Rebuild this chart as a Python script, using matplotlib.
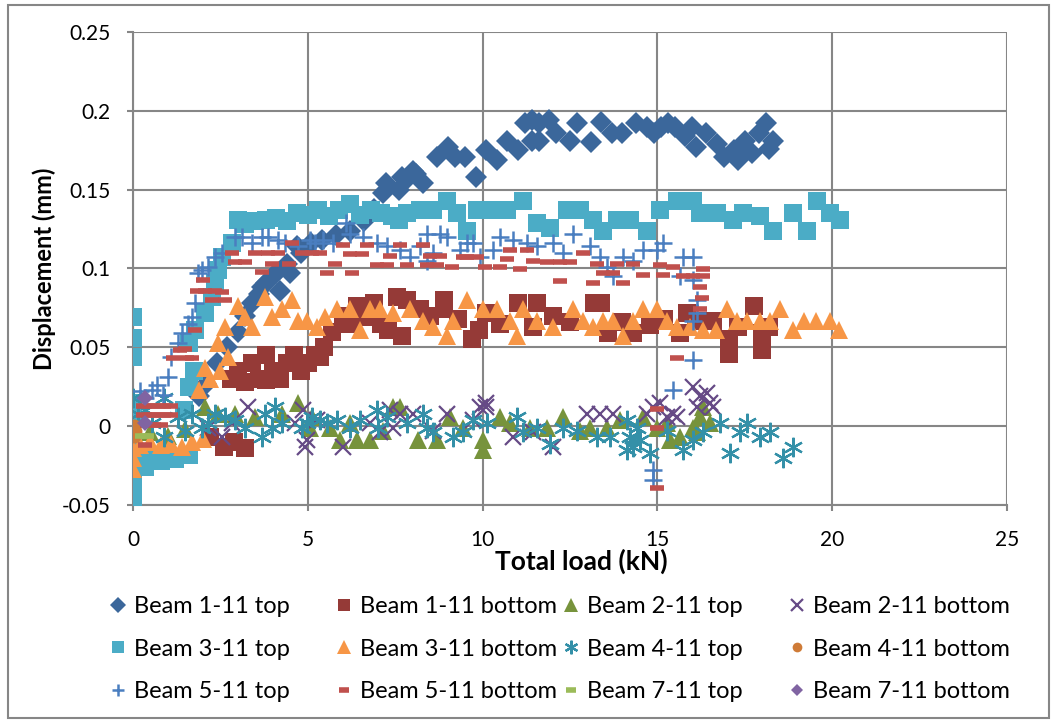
import numpy as np
import matplotlib.pyplot as plt
from matplotlib.patches import Rectangle
from matplotlib.ticker import FuncFormatter

plt.rcParams['font.family'] = ['Lato', 'DejaVu Sans']

# (total load kN, displacement mm) per gauge
beam_1_11_top = [
    (1.9, 0.019), (2.1, 0.027), (2.4, 0.040), (2.7, 0.050), (3.0, 0.060), (3.2, 0.070),
    (3.4, 0.078), (3.6, 0.084), (3.7, 0.088), (3.8, 0.091), (4.0, 0.095), (4.1, 0.097),
    (4.2, 0.086), (4.4, 0.103), (4.5, 0.097), (4.7, 0.114), (4.8, 0.110), (5.1, 0.116),
    (5.4, 0.118), (5.8, 0.121), (6.2, 0.124), (6.6, 0.130), (6.9, 0.138), (7.15, 0.148),
    (7.25, 0.154), (7.6, 0.150), (7.7, 0.158), (7.8, 0.156), (8.0, 0.162), (8.1, 0.160),
    (8.3, 0.154), (8.7, 0.171), (9.0, 0.177), (9.2, 0.171), (9.5, 0.171), (9.8, 0.158),
    (10.1, 0.175), (10.4, 0.169), (10.7, 0.181), (11.0, 0.175), (11.2, 0.192), (11.4, 0.194),
    (11.4, 0.181), (11.6, 0.192), (11.6, 0.181), (11.9, 0.194), (12.1, 0.186), (12.5, 0.181),
    (12.7, 0.192), (13.1, 0.180), (13.4, 0.193), (13.7, 0.186), (14.0, 0.186), (14.4, 0.192),
    (14.7, 0.190), (14.9, 0.186), (15.1, 0.190), (15.3, 0.192), (15.5, 0.190), (15.8, 0.184),
    (16.0, 0.190), (16.1, 0.177), (16.4, 0.186), (16.7, 0.179), (16.9, 0.171), (17.2, 0.175),
    (17.3, 0.169), (17.5, 0.181), (17.7, 0.173), (17.9, 0.186), (18.1, 0.192), (18.2, 0.176),
    (18.3, 0.181),
]
beam_1_11_bottom = [
    (2.2, -0.007), (2.6, -0.013), (2.9, -0.010), (3.2, -0.014), (2.8, 0.030), (3.0, 0.035),
    (3.2, 0.028), (3.4, 0.040), (3.6, 0.030), (3.8, 0.045), (3.8, 0.029), (4.0, 0.035),
    (4.2, 0.030), (4.4, 0.040), (4.6, 0.045), (4.8, 0.035), (5.0, 0.040), (5.2, 0.045),
    (5.35, 0.044), (5.45, 0.050), (5.7, 0.060), (6.0, 0.070), (6.2, 0.065), (6.4, 0.076),
    (6.7, 0.069), (6.9, 0.078), (7.1, 0.065), (7.3, 0.061), (7.55, 0.082), (7.7, 0.057),
    (7.85, 0.080), (8.2, 0.074), (8.5, 0.070), (8.9, 0.080), (8.9, 0.074), (9.3, 0.068),
    (9.7, 0.055), (9.9, 0.061), (10.1, 0.072), (10.5, 0.065), (11.0, 0.078), (11.45, 0.063),
    (11.55, 0.078), (12.0, 0.070), (12.5, 0.066), (13.2, 0.078), (13.4, 0.078), (13.6, 0.059),
    (14.0, 0.066), (14.3, 0.059), (14.8, 0.064), (15.2, 0.068), (15.65, 0.059), (15.85, 0.072),
    (16.1, 0.067), (16.6, 0.067), (17.05, 0.055), (17.05, 0.046), (17.3, 0.063), (17.75, 0.076),
    (18.0, 0.059), (18.0, 0.048), (18.2, 0.063),
]
beam_2_11_top = [
    (0.5, -0.004), (1.0, -0.006), (1.5, -0.002), (2.06, 0.012), (2.43, 0.008), (2.92, 0.008),
    (3.49, 0.006), (4.26, 0.008), (4.73, 0.015), (5.06, -0.001), (5.12, 0.006), (5.64, -0.001),
    (5.92, -0.009), (6.21, 0.002), (6.4, -0.009), (6.78, -0.009), (7.15, -0.003), (7.44, 0.012),
    (7.64, 0.012), (8.16, -0.009), (8.69, -0.009), (9.07, 0.006), (9.45, -0.001), (10.0, -0.009),
    (10.0, -0.015), (10.5, 0.006), (10.78, 0.002), (11.36, -0.001), (11.83, -0.001), (12.3, 0.006),
    (12.79, -0.003), (13.07, -0.001), (13.55, -0.001), (13.93, 0.004), (14.6, 0.006), (14.99, -0.001),
    (15.27, 0.002), (15.36, -0.009), (15.65, -0.007), (16.03, -0.001), (16.12, -0.004), (16.22, 0.006),
    (16.3, 0.012), (16.5, 0.002),
]
beam_2_11_bottom = [
    (2.15, -0.001), (2.54, -0.007), (2.83, 0.002), (3.3, 0.012), (4.63, 0.002), (4.87, 0.010),
    (4.92, -0.013), (4.97, -0.009), (5.26, 0.004), (6.02, -0.013), (6.78, 0.002), (7.07, -0.004),
    (7.35, 0.010), (7.44, -0.001), (7.64, 0.008), (8.0, 0.008), (8.59, -0.003), (8.97, 0.008),
    (9.73, 0.004), (9.92, 0.012), (10.1, 0.015), (10.1, 0.012), (10.87, -0.007), (11.45, -0.004),
    (12.02, -0.013), (12.98, 0.008), (13.36, 0.008), (13.74, 0.008), (14.69, 0.008), (14.88, 0.012),
    (15.07, 0.015), (15.27, 0.006), (15.45, 0.008), (15.55, 0.006), (16.03, 0.025), (16.12, 0.012),
    (16.22, 0.019), (16.41, 0.021), (16.5, 0.015), (16.6, 0.012),
]
beam_3_11_top = [
    (0.0, 0.069), (0.0, 0.056), (0.0, 0.044), (0.0, 0.015), (0.0, 0.006), (0.0, -0.010),
    (0.0, -0.020), (0.0, -0.034), (0.0, -0.045), (0.35, -0.026), (0.4, -0.020), (0.8, -0.022),
    (1.2, -0.021), (1.6, -0.018), (1.45, 0.010), (1.6, 0.025), (1.75, 0.035), (1.6, 0.053),
    (1.77, 0.061), (2.06, 0.072), (2.26, 0.082), (2.35, 0.091), (2.43, 0.099), (2.54, 0.107),
    (2.83, 0.116), (3.0, 0.131), (3.2, 0.128), (3.5, 0.130), (3.8, 0.131), (4.1, 0.132),
    (4.4, 0.130), (4.7, 0.135), (5.0, 0.134), (5.3, 0.137), (5.6, 0.133), (5.9, 0.137),
    (6.2, 0.141), (6.5, 0.134), (6.8, 0.137), (7.1, 0.135), (7.4, 0.133), (7.6, 0.131),
    (7.83, 0.135), (8.21, 0.137), (8.59, 0.137), (8.97, 0.143), (9.26, 0.135), (9.54, 0.124),
    (9.83, 0.137), (10.31, 0.137), (10.69, 0.137), (11.16, 0.143), (11.55, 0.129), (11.93, 0.126),
    (12.4, 0.137), (12.79, 0.137), (13.17, 0.131), (13.45, 0.124), (13.84, 0.131), (14.22, 0.131),
    (14.69, 0.124), (15.07, 0.137), (15.55, 0.143), (16.03, 0.143), (16.22, 0.135), (16.7, 0.135),
    (17.17, 0.131), (17.46, 0.135), (17.93, 0.133), (18.32, 0.124), (18.89, 0.135), (19.27, 0.124),
    (19.56, 0.143), (19.94, 0.135), (20.22, 0.131),
]
beam_3_11_bottom = [
    (0.0, -0.014), (0.0, -0.020), (0.0, -0.027), (0.2, -0.012), (0.5, -0.010), (0.8, -0.012),
    (1.1, -0.011), (1.4, -0.013), (1.7, -0.010), (2.0, -0.008), (1.9, 0.023), (2.2, 0.030),
    (2.06, 0.037), (2.43, 0.053), (2.5, 0.035), (2.72, 0.044), (2.63, 0.063), (3.0, 0.076),
    (3.2, 0.069), (3.4, 0.063), (3.78, 0.082), (3.98, 0.069), (4.26, 0.074), (4.55, 0.080),
    (4.72, 0.067), (4.97, 0.067), (5.26, 0.063), (5.5, 0.069), (5.83, 0.074), (6.2, 0.074),
    (6.49, 0.061), (6.78, 0.074), (7.07, 0.074), (7.44, 0.072), (7.92, 0.074), (8.3, 0.067),
    (8.59, 0.063), (8.97, 0.057), (9.16, 0.067), (9.54, 0.080), (10.0, 0.074), (10.4, 0.074),
    (10.78, 0.067), (10.97, 0.057), (11.16, 0.074), (11.55, 0.067), (12.02, 0.063), (12.59, 0.074),
    (12.88, 0.067), (13.17, 0.063), (13.45, 0.067), (13.74, 0.067), (14.03, 0.057), (14.31, 0.067),
    (14.6, 0.074), (14.99, 0.074), (15.27, 0.067), (15.56, 0.063), (15.93, 0.063), (16.3, 0.061),
    (16.69, 0.061), (17.0, 0.074), (17.27, 0.067), (17.55, 0.067), (17.93, 0.067), (18.22, 0.067),
    (18.5, 0.074), (18.89, 0.061), (19.18, 0.067), (19.55, 0.067), (19.94, 0.067), (20.2, 0.061),
]
beam_4_11_top = [
    (0.0, 0.018), (0.15, 0.008), (0.35, 0.010), (0.55, 0.002), (0.9, 0.018), (0.9, -0.007),
    (1.3, 0.006), (1.49, -0.003), (1.68, 0.008), (1.97, -0.001), (2.15, 0.002), (2.35, 0.008),
    (2.63, 0.006), (2.92, 0.004), (3.2, -0.001), (3.68, -0.007), (3.78, 0.008), (3.97, -0.001),
    (4.06, 0.012), (4.26, 0.002), (4.83, -0.001), (4.97, 0.002), (5.12, 0.006), (5.35, 0.004),
    (5.54, 0.002), (5.83, 0.004), (6.21, -0.001), (6.49, 0.004), (6.97, 0.010), (7.0, -0.001),
    (7.26, 0.006), (7.83, 0.002), (8.3, 0.008), (8.4, -0.001), (8.59, -0.004), (9.16, -0.007),
    (9.45, -0.004), (9.73, 0.004), (10.12, 0.002), (10.97, 0.006), (11.16, -0.004), (11.55, -0.001),
    (11.93, -0.011), (12.3, -0.001), (12.69, -0.003), (13.26, -0.007), (13.64, -0.007), (14.12, 0.004),
    (14.12, -0.015), (14.22, -0.007), (14.31, -0.013), (14.41, -0.001), (14.5, -0.009), (14.79, -0.017),
    (15.27, -0.003), (15.74, -0.015), (16.03, -0.009), (16.3, -0.004), (16.79, 0.002), (17.07, -0.017),
    (17.36, -0.004), (17.55, 0.002), (17.93, -0.007), (18.22, -0.004), (18.6, -0.020), (18.89, -0.013),
]
beam_4_11_bottom = [(0.02, 0.0), (0.02, -0.006), (0.05, -0.003)]
beam_5_11_top = [
    (0.2, 0.022), (0.35, 0.018), (0.55, 0.023), (0.7, 0.026), (0.85, 0.020), (1.0, 0.031),
    (1.1, 0.044), (1.29, 0.053), (1.4, 0.059), (1.58, 0.065), (1.68, 0.069), (1.77, 0.078),
    (1.86, 0.097), (1.97, 0.099), (2.15, 0.101), (2.35, 0.107), (2.54, 0.110), (2.92, 0.120),
    (3.11, 0.120), (3.4, 0.116), (3.68, 0.120), (3.87, 0.120), (4.16, 0.118), (4.35, 0.116),
    (4.73, 0.114), (5.06, 0.118), (5.21, 0.116), (5.44, 0.118), (5.73, 0.116), (6.1, 0.129),
    (6.21, 0.122), (6.59, 0.120), (6.97, 0.116), (7.26, 0.114), (7.64, 0.112), (7.92, 0.107),
    (8.21, 0.114), (8.4, 0.105), (8.4, 0.122), (8.59, 0.110), (8.78, 0.122), (8.97, 0.120),
    (9.35, 0.112), (9.54, 0.116), (9.73, 0.116), (9.92, 0.107), (10.3, 0.112), (10.5, 0.120),
    (10.87, 0.118), (11.26, 0.116), (11.55, 0.114), (12.02, 0.116), (12.3, 0.110), (12.59, 0.122),
    (13.07, 0.114), (13.36, 0.107), (13.55, 0.101), (13.74, 0.095), (14.03, 0.107), (14.31, 0.105),
    (14.6, 0.112), (14.99, 0.112), (15.17, 0.116), (15.65, 0.095), (15.74, 0.107), (16.03, 0.107),
    (16.03, 0.093), (16.12, 0.080), (16.12, 0.072), (16.03, 0.067), (16.03, 0.042), (15.45, 0.023),
    (14.88, -0.028), (14.88, -0.034),
]
beam_5_11_bottom = [
    (0.3, 0.013), (0.5, 0.013), (0.7, 0.013), (0.9, 0.013), (1.1, 0.013), (0.3, 0.007),
    (0.5, 0.007), (0.7, 0.007), (0.9, 0.007), (1.1, 0.007), (0.4, 0.001), (0.6, 0.001),
    (0.8, 0.001), (0.35, -0.012), (1.14, 0.043), (1.34, 0.048), (1.49, 0.049), (1.54, 0.043),
    (1.68, 0.043), (1.77, 0.061), (1.83, 0.086), (2.0, 0.093), (2.06, 0.086), (2.26, 0.080),
    (2.35, 0.086), (2.54, 0.085), (2.63, 0.080), (2.83, 0.110), (2.92, 0.104), (3.2, 0.104),
    (3.49, 0.110), (3.68, 0.098), (3.87, 0.110), (3.97, 0.103), (4.16, 0.110), (4.45, 0.103),
    (4.55, 0.116), (4.83, 0.110), (5.12, 0.110), (5.35, 0.110), (5.54, 0.097), (5.78, 0.103),
    (6.02, 0.115), (6.21, 0.109), (6.26, 0.097), (6.55, 0.109), (6.68, 0.115), (6.97, 0.102),
    (7.26, 0.102), (7.35, 0.108), (7.64, 0.115), (7.83, 0.102), (8.3, 0.115), (8.4, 0.102),
    (8.5, 0.108), (8.69, 0.102), (8.78, 0.108), (9.12, 0.101), (9.45, 0.107), (9.54, 0.107),
    (9.83, 0.107), (10.07, 0.101), (10.5, 0.101), (10.7, 0.106), (10.78, 0.112), (11.07, 0.100),
    (11.26, 0.112), (11.45, 0.105), (11.83, 0.104), (12.21, 0.104), (12.21, 0.092), (12.5, 0.104),
    (12.88, 0.110), (13.17, 0.091), (13.26, 0.103), (13.45, 0.097), (13.74, 0.097), (13.84, 0.103),
    (14.03, 0.091), (14.31, 0.103), (14.6, 0.096), (15.07, 0.102), (15.17, 0.096), (15.45, 0.101),
    (15.74, 0.095), (16.03, 0.095), (16.3, 0.100), (16.3, 0.095), (16.22, 0.088), (16.27, 0.081),
    (16.22, 0.074), (15.56, 0.043), (14.99, 0.011), (14.99, -0.001), (14.99, -0.039),
]
beam_7_11_top = [(0.25, -0.006), (0.4, -0.006)]
beam_7_11_bottom = [(0.35, 0.018), (0.35, 0.002)]

series_labels = [
    'Beam 1-11 top', 'Beam 1-11 bottom', 'Beam 2-11 top', 'Beam 2-11 bottom',
    'Beam 3-11 top', 'Beam 3-11 bottom', 'Beam 4-11 top', 'Beam 4-11 bottom',
    'Beam 5-11 top', 'Beam 5-11 bottom', 'Beam 7-11 top', 'Beam 7-11 bottom',
]
series_data = [
    beam_1_11_top, beam_1_11_bottom, beam_2_11_top, beam_2_11_bottom,
    beam_3_11_top, beam_3_11_bottom, beam_4_11_top, beam_4_11_bottom,
    beam_5_11_top, beam_5_11_bottom, beam_7_11_top, beam_7_11_bottom,
]

# marker, size, edge width, colour (Excel-like office palette)
styles = [
    dict(marker='D', ms=11.5, mew=0, color='#3B679B'),
    dict(marker='s', ms=12.5, mew=0, color='#953A37'),
    dict(marker='^', ms=13.5, mew=0, color='#77933C'),
    dict(marker='x', ms=12, mew=1.6, color='#664A86'),
    dict(marker='s', ms=12.5, mew=0, color='#4BACC6'),
    dict(marker='^', ms=13.5, mew=0, color='#F79646'),
    dict(marker=(6, 2, 0), ms=14, mew=1.6, color='#3490A8'),
    dict(marker='o', ms=10, mew=0, color='#CF7B37'),
    dict(marker='+', ms=12.5, mew=1.8, color='#4A7EC0'),
    dict(marker='_', ms=10.5, mew=4, color='#C0504D'),
    dict(marker='_', ms=10.5, mew=4, color='#9BBB59'),
    dict(marker='D', ms=8.5, mew=0, color='#8064A2'),
]

grid_color = '#868686'

fig = plt.figure(figsize=(10.53, 7.2), dpi=100)
ax = fig.add_axes([133 / 1053, 1 - 505 / 720, 874 / 1053, 473 / 720])

handles = []
for i, (pts, st) in enumerate(zip(series_data, styles)):
    pts = np.array(pts)
    line, = ax.plot(pts[:, 0], pts[:, 1], ls='none', marker=st['marker'],
                    ms=st['ms'], mew=st['mew'], color=st['color'],
                    mec=st['color'], zorder=3 + i * 0.01)
    handles.append(line)

ax.set_xlim(0, 25)
ax.set_ylim(-0.05, 0.25)
ax.set_xticks(np.arange(0, 26, 5))
ax.set_yticks(np.arange(-0.05, 0.26, 0.05))
ax.yaxis.set_major_formatter(FuncFormatter(lambda v, p: f'{v:.2f}'.rstrip('0').rstrip('.')
                                           if abs(v) > 1e-9 else '0'))
ax.grid(True, color=grid_color, lw=1.5)
ax.set_axisbelow(True)
for sp in ax.spines.values():
    sp.set_visible(False)
for side in ('left', 'bottom'):
    ax.spines[side].set_visible(True)
    ax.spines[side].set_color(grid_color)
    ax.spines[side].set_linewidth(1.5)
ax.tick_params(direction='out', length=4, width=1.5, color=grid_color,
               labelsize=15, pad=12)
ax.tick_params(axis='x', pad=14)

ax.set_xlabel('Total load (kN)', fontsize=19, fontweight='bold')
ax.xaxis.set_label_coords(0.513, -0.093)
ax.set_ylabel('Displacement (mm)', fontsize=17, fontweight='bold')
ax.yaxis.set_label_coords(-0.088, 0.5)

# legend: 3 rows x 4 columns, filled row by row
col_x = [110, 336, 563, 789]
for c in range(4):
    fig.legend(handles[c::4], series_labels[c::4], loc='upper left',
               bbox_to_anchor=(col_x[c] / 1053, 1 - 596 / 720),
               frameon=False, fontsize=17, markerscale=0.7, handlelength=0.7,
               handletextpad=0.3, labelspacing=0.92, borderpad=0,
               borderaxespad=0)

fig.add_artist(Rectangle((8 / 1053, 2 / 720), 1041 / 1053, 713 / 720,
                         transform=fig.transFigure, fill=False,
                         edgecolor=grid_color, lw=1.5))

fig.savefig('out.png', dpi=100)
